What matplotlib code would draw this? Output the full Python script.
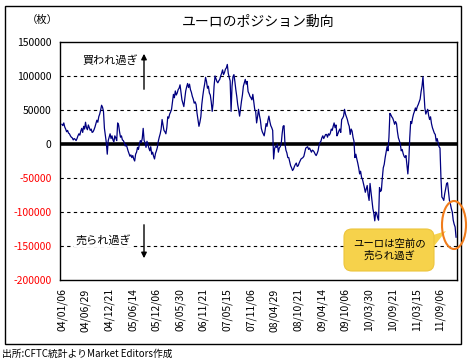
import matplotlib.pyplot as plt
import numpy as np
from matplotlib.patches import Ellipse, FancyBboxPatch, Polygon, Rectangle

plt.rcParams['font.family'] = ['Noto Sans CJK JP', 'DejaVu Sans']

# CFTC euro net non-commercial positions, weekly from 2004-01-06
y2004 = [29000, 27000, 31000, 25000, 22000, 18000, 20000, 16000, 15000, 12000,
         10000, 9000, 6000, 8000, 7000, 5000, 8000, 12000, 15000, 13000,
         19000, 23000, 17000, 26000, 22000, 32000, 24000, 21000, 28000, 24000,
         20000, 22000, 17000, 18000, 21000, 25000, 30000, 35000, 32000, 40000,
         44000, 50000, 57000, 54000, 48000, 23000, 12000, 2000, -15000, 5000,
         10000, 15000]
y2005 = [8000, 12000, 6000, 3000, 12000, 9000, 5000, 31000, 28000, 18000,
         10000, 12000, 6000, 5000, 2000, -3000, -1000, -5000, -10000, -14000,
         -18000, -16000, -20000, -17000, -22000, -25000, -15000, -12000, -5000, -8000,
         0, 5000, 2000, 8000, 23000, 5000, 2000, -5000, 4000, 0,
         -6000, -10000, -4000, -15000, -12000, -18000, -22000, -14000, -10000, -5000,
         4000, 10000]
y2006 = [15000, 22000, 36000, 28000, 20000, 18000, 15000, 24000, 40000, 38000,
         44000, 47000, 51000, 62000, 73000, 68000, 78000, 72000, 75000, 80000,
         82000, 87000, 76000, 65000, 60000, 55000, 66000, 78000, 84000, 89000,
         83000, 88000, 80000, 76000, 70000, 66000, 60000, 62000, 58000, 45000,
         35000, 26000, 32000, 40000, 58000, 70000, 80000, 88000, 98000, 92000,
         82000, 85000]
y2007 = [75000, 72000, 62000, 48000, 60000, 85000, 100000, 96000, 92000, 90000,
         93000, 95000, 100000, 104000, 109000, 102000, 105000, 110000, 112000, 117000,
         104000, 98000, 93000, 48000, 85000, 99000, 102000, 92000, 80000, 70000,
         58000, 50000, 41000, 52000, 63000, 72000, 85000, 90000, 95000, 88000,
         92000, 77000, 74000, 70000, 68000, 65000, 73000, 62000, 51000, 48000,
         31000, 40000]
y2008 = [51000, 42000, 35000, 23000, 18000, 15000, 12000, 20000, 30000, 26000,
         35000, 41000, 33000, 27000, 24000, 20000, -22000, -7000, -3000, -5000,
         0, -12000, -6000, -4000, 0, 15000, 26000, 27000, 0, -9000,
         -13000, -20000, -20000, -26000, -32000, -35000, -39000, -37000, -33000, -30000,
         -28000, -33000, -32000, -28000, -25000, -22000, -21000, -20000, -18000, -12000,
         -6000, -5000, -4000]
y2009 = [-8000, -6000, -9000, -12000, -9000, -10000, -12000, -15000, -17000, -14000,
         -10000, -2000, 2000, 4000, 9000, 12000, 8000, 11000, 14000, 14000,
         10000, 15000, 13000, 16000, 22000, 20000, 26000, 31000, 24000, 28000,
         12000, 15000, 19000, 22000, 17000, 36000, 38000, 41000, 51000, 44000,
         40000, 36000, 30000, 26000, 14000, 22000, 19000, 10000, 4000, -20000,
         -15000, -22000]
y2010 = [-28000, -35000, -44000, -40000, -49000, -52000, -58000, -64000, -71000, -66000,
         -61000, -75000, -83000, -58000, -70000, -83000, -95000, -102000, -113000, -100000,
         -102000, -108000, -112000, -64000, -70000, -68000, -50000, -35000, -30000, -20000,
         -12000, -4000, -10000, 10000, 45000, 43000, 40000, 38000, 34000, 29000,
         33000, 30000, 18000, 9000, 5000, 0, -10000, -8000, -14000, -18000,
         -20000, -17000]
# 2011 plus the first week of 2012
y2011 = [-30000, -44000, -25000, 9000, 33000, 30000, 38000, 44000, 48000, 53000,
         50000, 55000, 58000, 62000, 66000, 77000, 85000, 99000, 75000, 53000,
         44000, 48000, 51000, 42000, 36000, 40000, 30000, 24000, 20000, 16000,
         14000, 4000, 8000, 2000, -4000, -6000, -49000, -78000, -80000, -83000,
         -73000, -66000, -58000, -57000, -70000, -83000, -88000, -95000, -100000, -112000,
         -118000, -122000, -137000]

tick_labels = ['04/01/06', '04/06/29', '04/12/21', '05/06/14', '05/12/06', '06/05/30',
               '06/11/21', '07/05/15', '07/11/06', '08/04/29', '08/10/21', '09/04/14',
               '09/10/06', '10/03/30', '10/09/21', '11/03/15', '11/09/06']
y_ticks = [150000, 100000, 50000, 0, -50000, -100000, -150000, -200000]
grid_levels = [100000, 50000, -50000, -100000, -150000]

positions = np.concatenate([y2004, y2005, y2006, y2007, y2008, y2009, y2010, y2011])
weeks = np.arange(len(positions))

W, H = 470, 363
fig = plt.figure(figsize=(W / 100, H / 100), dpi=100)
ax = fig.add_axes([60 / W, 1 - 280 / H, 397 / W, 238 / H])

for v in grid_levels:
    ax.axhline(v, color='black', lw=0.8, ls=(0, (3, 3)), zorder=1)
ax.axhline(0, color='black', lw=2.6, zorder=2)
ax.plot(weeks, positions, color='#000080', lw=0.9, zorder=3)

ax.set_xlim(-2, 418)
ax.set_ylim(-200000, 150000)
ax.set_yticks(y_ticks)
ax.set_yticklabels([str(v) for v in y_ticks], fontsize=7.5)
for lab, v in zip(ax.get_yticklabels(), y_ticks):
    lab.set_color('red' if v < 0 else 'black')
ax.set_xticks(np.arange(len(tick_labels)) * 25)
ax.set_xticklabels(tick_labels, rotation=90, fontsize=7.5)
ax.tick_params(axis='both', length=0)
ax.tick_params(axis='y', pad=6)
ax.tick_params(axis='x', pad=6)
for s in ax.spines.values():
    s.set_linewidth(1)

# overlay in pixel coordinates for the decorations
ov = fig.add_axes([0, 0, 1, 1], zorder=5)
ov.set_xlim(0, W)
ov.set_ylim(H, 0)
ov.axis('off')
ov.patch.set_alpha(0)

ov.add_patch(Rectangle((4.5, 5.5), 456, 338, fill=False, ec='black', lw=1))
ov.text(258, 22, 'ユーロのポジション動向', ha='center', va='center', fontsize=10)
ov.text(42, 20, '（枚）', ha='center', va='center', fontsize=7.5)

ov.text(82, 60, '買われ過ぎ', ha='left', va='center', fontsize=8)
ov.annotate('', xy=(144, 51), xytext=(144, 92),
            arrowprops=dict(arrowstyle='-|>', color='black', lw=1, mutation_scale=8))
ov.text(75, 240, '売られ過ぎ', ha='left', va='center', fontsize=8,
        bbox=dict(fc='white', ec='none', pad=1))
ov.annotate('', xy=(144, 261), xytext=(144, 222),
            arrowprops=dict(arrowstyle='-|>', color='black', lw=1, mutation_scale=8))

ov.add_patch(Polygon([(430, 236), (446, 231), (431, 250)], closed=True,
                     fc='#F6D24B', ec='none'))
ov.add_patch(FancyBboxPatch((344, 229), 90, 42, boxstyle='round,pad=0,rounding_size=8',
                            fc='#F6D24B', ec='#EDC43C', lw=0.8))
ov.text(389, 250, 'ユーロは空前の\n売られ過ぎ', ha='center', va='center',
        fontsize=7.5, linespacing=1.15)
ov.add_patch(Ellipse((454, 225), 24, 48, fill=False, ec='#F07C1C', lw=1.5))

ov.text(2, 354, '出所:CFTC統計よりMarket Editors作成', ha='left', va='center', fontsize=7)

fig.savefig('out.png', dpi=100)
